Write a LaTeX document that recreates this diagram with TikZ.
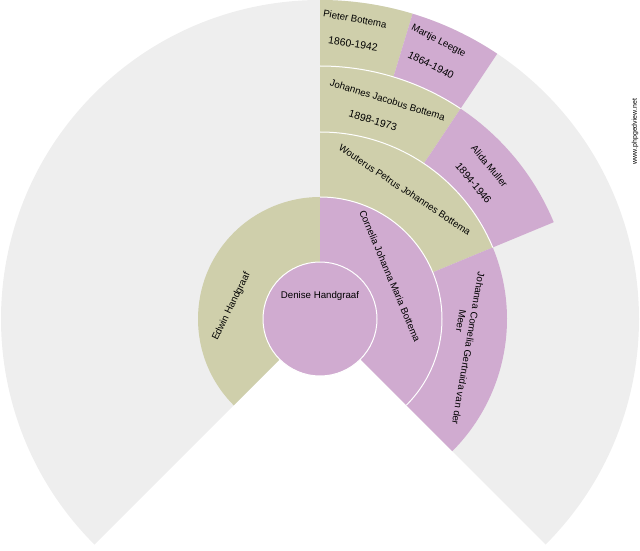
\documentclass[tikz,border=0pt]{standalone}
\usepackage{fontspec}
\setmainfont{Liberation Sans}
\definecolor{mcol}{RGB}{207,207,171}
\definecolor{fcol}{RGB}{208,171,208}
\definecolor{bgcol}{RGB}{238,238,238}
\newcommand{\fanseg}[5]{\fill[#1] (#2:#4) arc[start angle=#2, end angle=#3, radius=#4] -- (#3:#5) arc[start angle=#3, end angle=#2, radius=#5] -- cycle;}
\begin{document}
\begin{tikzpicture}[x=1pt,y=1pt,
  lbl/.style={inner sep=0pt, font=\fontsize{9.7}{11}\selectfont, text=black},
  dlbl/.style={inner sep=0pt, font=\fontsize{10.4}{12}\selectfont, text=black},
  sepline/.style={draw=white, line width=1pt}]
\useasboundingbox (0,0) rectangle (640,550);
\begin{scope}[shift={(320,231)}]
  % grey background fan
  \fill[bgcol] (0,0) -- (-45:319) arc[start angle=-45, end angle=225, radius=319] -- cycle;
  % generation 2
  \fanseg{mcol}{90}{225}{57}{122}
  \fanseg{fcol}{-45}{90}{57}{122}
  % generation 3
  \fanseg{mcol}{22.5}{90}{122}{187}
  \fanseg{fcol}{-45}{22.5}{122}{187}
  % generation 4
  \fanseg{mcol}{56.25}{90}{187}{253}
  \fanseg{fcol}{22.5}{56.25}{187}{253}
  % generation 5
  \fanseg{mcol}{73.125}{90}{253}{319}
  \fanseg{fcol}{56.25}{73.125}{253}{319}
  % centre
  \fill[fcol] (0,0) circle[radius=57];
  % white separating arcs
  \draw[sepline] (0,0) circle[radius=57];
  \draw[sepline] (-45:122) arc[start angle=-45, end angle=90, radius=122];
  \draw[sepline] (22.5:187) arc[start angle=22.5, end angle=90, radius=187];
  \draw[sepline] (56.25:253) arc[start angle=56.25, end angle=90, radius=253];
\end{scope}
\node[lbl] (denise) at (320,254) {Denise Handgraaf};
\node[lbl,rotate=63.8] (edwin) at (231.5,243.5) {Edwin Handgraaf};
\node[lbl,rotate=-67] (cornelia) at (390,274) {Cornelia Johanna Maria Bottema};
\node[lbl,rotate=-33.5] (wouterus) at (405,360) {Wouterus Petrus Johannes Bottema};
\node[lbl,rotate=-99.8] (johanna) at (468.5,201.5) {Johanna Cornelia Gertruida van der};
\node[lbl,rotate=-99.8] (johanna2) at (461,229) {Meer};
\node[lbl,rotate=-17] (johannes) at (387.5,450) {Johannes Jacobus Bottema};
\node[dlbl,rotate=-16.7] (johannesd) at (373,429.5) {1898-1973};
\node[lbl,rotate=-50.3] (alida) at (489.5,384) {Alida Muller};
\node[dlbl,rotate=-50.5] (alidad) at (473.5,367) {1894-1946};
\node[lbl,rotate=-10] (pieter) at (355,531) {Pieter Bottema};
\node[dlbl,rotate=-8.7] (pieterd) at (353,506) {1860-1942};
\node[lbl,rotate=-27] (martje) at (438.5,509) {Martje Leegte};
\node[dlbl,rotate=-26.6] (martjed) at (431,485) {1864-1940};
\node[inner sep=0pt, font=\fontsize{7}{8}\selectfont, rotate=90] (www) at (635,418.5) {www.phpgedview.net};
\end{tikzpicture}
\end{document}
